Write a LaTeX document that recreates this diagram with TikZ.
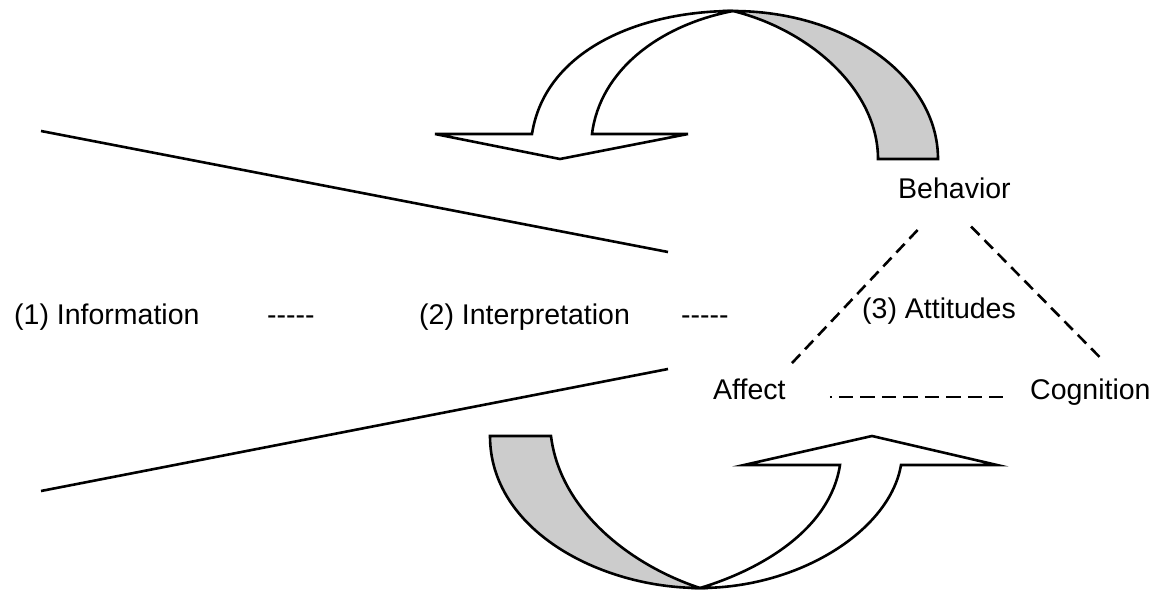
\documentclass[tikz,border=0pt]{standalone}
\usepackage{fontspec}
\setmainfont{Liberation Sans}

\begin{document}
\begin{tikzpicture}[x=1pt, y=-1pt,
  lbl/.style={anchor=base west, inner sep=0pt, font=\fontsize{28.5}{34}\selectfont},
  band/.style={draw, line width=2.6pt},
  tri/.style={line width=2.6pt, dash pattern=on 12pt off 7pt}]
\useasboundingbox (0,0) rectangle (1160,591);

\node (1) at (14,324) [lbl] {(1) Information};
\node (2) at (267,324) [lbl] {-\kern0pt-\kern0pt-\kern0pt-\kern0pt-};
\node (3) at (419,324) [lbl] {(2) Interpretation};
\node (4) at (681,324) [lbl] {-\kern0pt-\kern0pt-\kern0pt-\kern0pt-};
\node (5) at (898,199) [lbl] {Behavior};
\node (6) at (713,399) [lbl] {Affect};
\node (7) at (1030,399) [lbl] {Cognition};
\node (8) at (862,318) [lbl] {(3) Attitudes};

% funnel
\draw [line width=2.6pt] (41,131) -- (668,252);
\draw [line width=2.6pt] (41,491) -- (668,369);

% top arrow
\path [band, fill=white] (532,134) .. controls (545,50) and (640,11) .. (733,11)
  .. controls (660,25) and (600,70) .. (592,134) -- (688,134) -- (560,159) -- (435,134) -- cycle;
\path [band, fill=gray!40] (733,11) .. controls (846,11) and (938,77) .. (938,159) -- (878,159)
  .. controls (878,90) and (810,30) .. (733,11) -- cycle;

% bottom arrow
\path [band, fill=gray!40] (490,436) -- (551,436) .. controls (560,510) and (630,565) .. (700,588)
  .. controls (600,588) and (490,530) .. (490,436) -- cycle;
\path [band, fill=white] (700,588) .. controls (800,588) and (890,530) .. (901,465) -- (997,465)
  -- (872,436) -- (744,465) -- (840,465) .. controls (830,530) and (760,570) .. (700,588) -- cycle;

% attitude triangle
\path [tri] ([xshift=-8pt]5.south) edge [shorten <=42pt, shorten >=15pt] ([xshift=-8pt]6.north east);
\path [tri] ([xshift=-10pt]5.south) edge [shorten <=38pt, shorten >=27pt] ([xshift=30pt]7.north);
\path [tri, dash pattern=on 14.3pt off 7.2pt, dash phase=12.3pt]
  ([yshift=2pt]6.base east) edge [shorten <=44pt, shorten >=27pt] ([yshift=2pt]7.base west);

\end{tikzpicture}
\end{document}
